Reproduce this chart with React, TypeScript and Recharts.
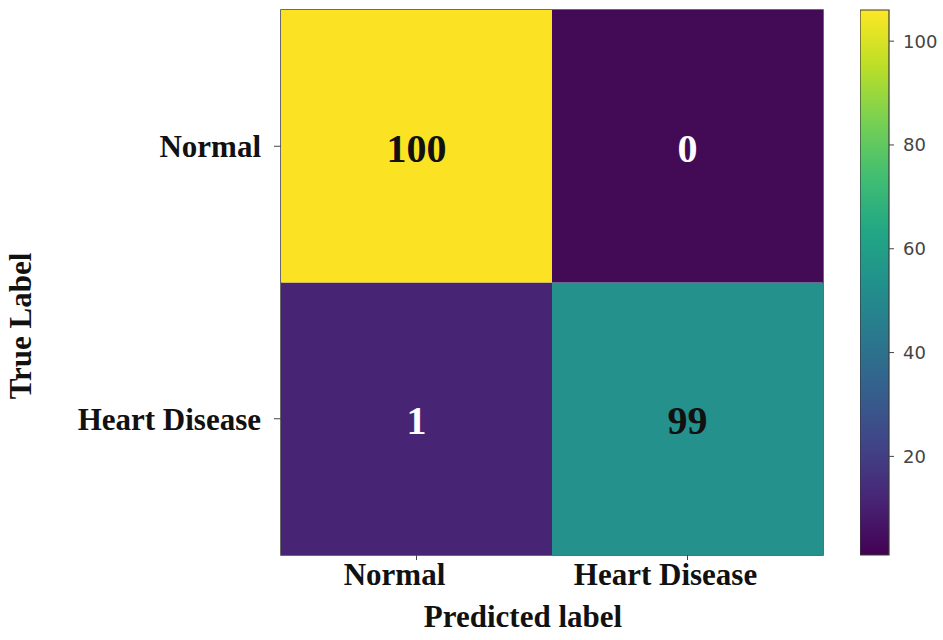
import React from 'react';
import { BarChart, Bar, XAxis, YAxis, Cell, LabelList, ReferenceArea } from 'recharts';

const predLabels = ['Normal', 'Heart Disease'];
const trueLabels = ['Normal', 'Heart Disease'];
// rows = true label, columns = predicted label
const counts = [
  [100, 0],
  [1, 99],
];
const colorbarRange = [1, 106];
const colorbarTicks = [20, 40, 60, 80, 100];

const cellColors = [
  ['#fbe324', '#430b55'],
  ['#482475', '#25918d'],
];
const viridisStops = ['#440154', '#482475', '#414487', '#355f8d', '#2a788e', '#21918c', '#22a884', '#44bf70', '#7ad151', '#bddf26', '#fde725'];

const SERIF = '"Liberation Serif", "Times New Roman", serif';
const SANS = '"DejaVu Sans", sans-serif';

const table = predLabels.map((p, j) => ({
  pred: p,
  rowHD: 1,
  rowN: 1,
  cntHD: counts[1][j],
  cntN: counts[0][j],
}));

const cbData = [{ name: 'cb', range: colorbarRange }];

const CountLabel = (props: any) => {
  const { x, y, width, height, value } = props;
  const fill = value > 50 ? '#111' : '#fff';
  return (
    <text
      x={x + width / 2}
      y={y + height / 2 + 2}
      textAnchor="middle"
      dominantBaseline="central"
      fontFamily={SERIF}
      fontWeight="bold"
      fontSize={40}
      fill={fill}
    >
      {value}
    </text>
  );
};

const yTickFmt = (v: number) => (v > 1 ? trueLabels[0] : trueLabels[1]);

export default function App() {
  return (
    <div style={{ position: 'fixed', left: 0, top: 0, width: 943, height: 640, background: '#fff' }}>
      <div style={{ position: 'absolute', left: 0, top: 0 }}>
        <BarChart
          width={840}
          height={640}
          data={table}
          margin={{ top: 10, right: 17, bottom: 0, left: 0 }}
          barCategoryGap={0}
        >
          <XAxis
            dataKey="pred"
            type="category"
            height={85}
            axisLine={false}
            tickSize={5}
            tickMargin={3}
            tickLine={{ stroke: '#444' }}
            tick={{ fontFamily: SERIF, fontWeight: 'bold', fontSize: 31, fill: '#111', dx: -22 }}
            label={{
              content: (p: any) => {
                const vb = p.viewBox;
                return (
                  <text
                    x={vb.x + vb.width / 2 - 29}
                    y={627}
                    textAnchor="middle"
                    fontFamily={SERIF}
                    fontWeight="bold"
                    fontSize={31}
                    fill="#111"
                  >
                    Predicted label
                  </text>
                );
              },
            }}
          />
          <YAxis
            type="number"
            domain={[0, 2]}
            ticks={[0.5, 1.5]}
            tickFormatter={yTickFmt}
            width={281}
            axisLine={false}
            tickSize={7}
            tickMargin={13}
            tickLine={{ stroke: '#444' }}
            tick={{ fontFamily: SERIF, fontWeight: 'bold', fontSize: 31, fill: '#111' }}
            label={{
              content: () => (
                <text
                  x={31}
                  y={326}
                  transform="rotate(-90 31 326)"
                  textAnchor="middle"
                  fontFamily={SERIF}
                  fontWeight="bold"
                  fontSize={31}
                  fill="#111"
                >
                  True Label
                </text>
              ),
            }}
          />
          <Bar dataKey="rowHD" stackId="m" isAnimationActive={false}>
            {table.map((_, j) => (
              <Cell key={`hd${j}`} fill={cellColors[1][j]} />
            ))}
            <LabelList dataKey="cntHD" content={CountLabel} />
          </Bar>
          <Bar dataKey="rowN" stackId="m" isAnimationActive={false}>
            {table.map((_, j) => (
              <Cell key={`n${j}`} fill={cellColors[0][j]} />
            ))}
            <LabelList dataKey="cntN" content={CountLabel} />
          </Bar>
          <ReferenceArea
            x1={predLabels[0]}
            x2={predLabels[1]}
            y1={0}
            y2={2}
            fill="none"
            fillOpacity={0}
            stroke="#3a3a3a"
            strokeWidth={1.5}
            ifOverflow="visible"
          />
        </BarChart>
      </div>
      <div style={{ position: 'absolute', left: 860, top: 0 }}>
        <BarChart
          width={83}
          height={640}
          data={cbData}
          margin={{ top: 10, right: 4, bottom: 85, left: 0 }}
          barCategoryGap={0}
        >
          <defs>
            <linearGradient id="viridis" x1="0" y1="1" x2="0" y2="0">
              {viridisStops.map((c, i) => (
                <stop key={i} offset={`${(i / (viridisStops.length - 1)) * 100}%`} stopColor={c} />
              ))}
            </linearGradient>
          </defs>
          <XAxis dataKey="name" hide />
          <YAxis
            orientation="right"
            type="number"
            domain={colorbarRange}
            ticks={colorbarTicks}
            width={50}
            axisLine={false}
            tickSize={5}
            tickMargin={9}
            tickLine={{ stroke: '#444' }}
            tick={{ fontFamily: SANS, fontSize: 18, fill: '#444', textAnchor: 'start' }}
          />
          <Bar
            dataKey="range"
            fill="url(#viridis)"
            stroke="#3a3a3a"
            strokeWidth={1.2}
            isAnimationActive={false}
          />
        </BarChart>
      </div>
    </div>
  );
}
